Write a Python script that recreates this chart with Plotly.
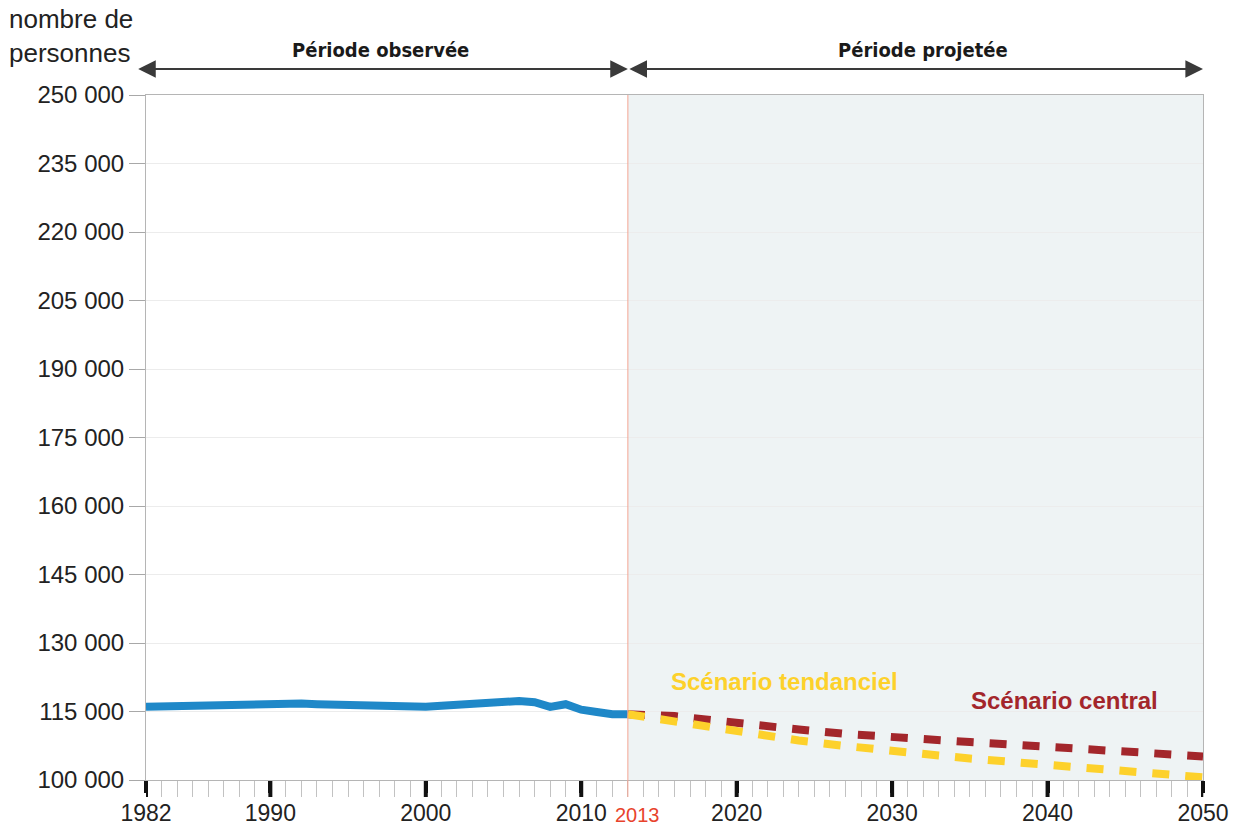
import plotly.graph_objects as go

# ---- data ----
obs_years = list(range(1982, 2014))
obs_values = [116050, 116150, 116250, 116350, 116450, 116550, 116650, 116750, 116900, 116900,
              116750, 116600, 116500, 116400, 116300, 116200, 116050, 115850, 116050, 116250,
              116450, 116650, 116850, 117050, 117300, 117050, 116000, 116600, 115400, 114900,
              114400, 114400]

proj_years = [2013, 2016, 2018, 2020, 2022, 2024, 2027, 2029, 2031, 2033, 2035, 2038, 2040,
              2042, 2044, 2046, 2048, 2050]
central_values = [114400, 114000, 113250, 112400, 111620, 111050, 110100, 109550, 109100,
                  108780, 108300, 107700, 107400, 106900, 106420, 106020, 105570, 105150]
tendanciel_values = [114400, 112850, 111780, 110510, 109580, 108650, 107450, 106650, 105970,
                     105360, 104700, 103950, 103400, 102800, 102260, 101740, 101120, 100590]

y_ticks = [100000, 115000, 130000, 145000, 160000, 175000, 190000, 205000, 220000, 235000, 250000]
y_ticktext = ["100 000", "115 000", "130 000", "145 000", "160 000", "175 000", "190 000",
              "205 000", "220 000", "235 000", "250 000"]
x_major = [1982, 1990, 2000, 2010, 2020, 2030, 2040, 2050]
x_minor = list(range(1982, 2051))

BLUE = "#1f88c8"
RED = "#a3262b"
YELLOW = "#fdd12b"
FONT = "Liberation Sans, Arial, sans-serif"
TITLE_FONT = "DejaVu Sans Condensed, Liberation Sans Narrow, Arial Narrow, sans-serif"

# body margin is removed by the post script, so the figure fills the whole window
W, H = 1243, 829
PL, PT = 146, 95          # plot left / top in pixels
PR, PB = 1203, 780        # plot right / bottom in pixels
PH = PB - PT
PW = PR - PL


def py(pix):
    """page pixel y -> paper y"""
    return (PB - pix) / PH


def px(pix):
    """page pixel x -> paper x"""
    return (pix - PL) / PW


fig = go.Figure()

fig.add_trace(go.Scatter(x=obs_years, y=obs_values, mode="lines",
                         line=dict(color=BLUE, width=8), showlegend=False, hoverinfo="skip"))
fig.add_trace(go.Scatter(x=proj_years, y=central_values, mode="lines",
                         line=dict(color=RED, width=8, dash="17px,16px"),
                         showlegend=False, hoverinfo="skip"))
fig.add_trace(go.Scatter(x=proj_years, y=tendanciel_values, mode="lines",
                         line=dict(color=YELLOW, width=8, dash="17px,16px"),
                         showlegend=False, hoverinfo="skip"))

# shaded projected period and the 2013 separator
fig.add_shape(type="rect", xref="x", yref="paper", x0=2013, x1=2050, y0=0, y1=1,
              fillcolor="#eef3f4", line=dict(width=0), layer="below")
fig.add_shape(type="line", xref="x", yref="paper", x0=2013, x1=2013, y0=py(797), y1=1,
              line=dict(color="#f4a592", width=1), layer="above")
# major ticks drawn full length (16px) below the axis
for xv in x_major:
    fig.add_shape(type="line", xref="x", yref="paper", x0=xv, x1=xv, y0=py(781), y1=py(797),
                  line=dict(color="#111111", width=4), layer="above")

annotations = []
# period arrows
arrow_y = py(69)
for x0, x1 in [(1981.4, 2013), (2013, 2050)]:
    annotations.append(dict(x=x1, y=arrow_y, xref="x", yref="paper",
                            ax=x0, ay=0, axref="x", ayref="pixel",
                            text="", showarrow=True, arrowside="end+start",
                            arrowhead=2, startarrowhead=2, arrowsize=1.6, startarrowsize=1.6,
                            arrowwidth=2.2, arrowcolor="#3a3a3a"))
text_y = py(50)
annotations.append(dict(x=1997.1, y=text_y, xref="x", yref="paper", text="<b>Période observée</b>",
                        xanchor="center", yanchor="middle", showarrow=False,
                        font=dict(family=TITLE_FONT, size=20, color="#1a1a1a")))
annotations.append(dict(x=2032.0, y=text_y, xref="x", yref="paper", text="<b>Période projetée</b>",
                        xanchor="center", yanchor="middle", showarrow=False,
                        font=dict(family=TITLE_FONT, size=20, color="#1a1a1a")))
# axis title
annotations.append(dict(x=px(7), y=py(36), xref="paper", yref="paper",
                        xanchor="left", yanchor="middle", align="left",
                        text="nombre de<br>personnes", showarrow=False,
                        font=dict(family=FONT, size=26, color="#222222")))
# scenario labels
annotations.append(dict(x=2023.1, y=121500, xref="x", yref="y", text="<b>Scénario tendanciel</b>",
                        xanchor="center", yanchor="middle",
                        showarrow=False, font=dict(family=FONT, size=24, color=YELLOW)))
annotations.append(dict(x=2041.1, y=117500, xref="x", yref="y", text="<b>Scénario central</b>",
                        xanchor="center", yanchor="middle",
                        showarrow=False, font=dict(family=FONT, size=24, color=RED)))
# red 2013 label
annotations.append(dict(x=2013.6, y=py(815), xref="x", yref="paper", text="2013",
                        xanchor="center", yanchor="middle",
                        showarrow=False, font=dict(family=FONT, size=20, color="#e8432c")))

fig.update_layout(
    width=W, height=H,
    margin=dict(l=PL, r=W - PR, t=PT, b=H - PB, autoexpand=False),
    paper_bgcolor="white", plot_bgcolor="white",
    annotations=annotations,
    showlegend=False,
)

fig.update_xaxes(range=[1982, 2050], tickvals=x_major, ticktext=[str(v) for v in x_major],
                 ticks="outside", ticklen=12, tickwidth=4, tickcolor="#111111",
                 tickfont=dict(family=FONT, size=23, color="#222222"),
                 showgrid=False, zeroline=False, automargin=False,
                 showline=True, linecolor="#b5b5b5", linewidth=1, mirror=True,
                 minor=dict(tickvals=x_minor, ticks="outside", ticklen=16, tickwidth=1,
                            tickcolor="#c2c2c2", showgrid=False))
fig.update_yaxes(range=[100000, 250000], tickvals=y_ticks, ticktext=y_ticktext,
                 ticks="outside", ticklen=16, tickwidth=1, tickcolor="#a8a8a8",
                 tickfont=dict(family=FONT, size=24, color="#222222"),
                 showgrid=True, gridcolor="#ececec", gridwidth=1, zeroline=False, automargin=False,
                 showline=True, linecolor="#b5b5b5", linewidth=1, mirror=True)

fig.write_html("out.html", config={"displayModeBar": False},
               post_script="document.body.style.margin='0';document.body.style.overflow='hidden';")
